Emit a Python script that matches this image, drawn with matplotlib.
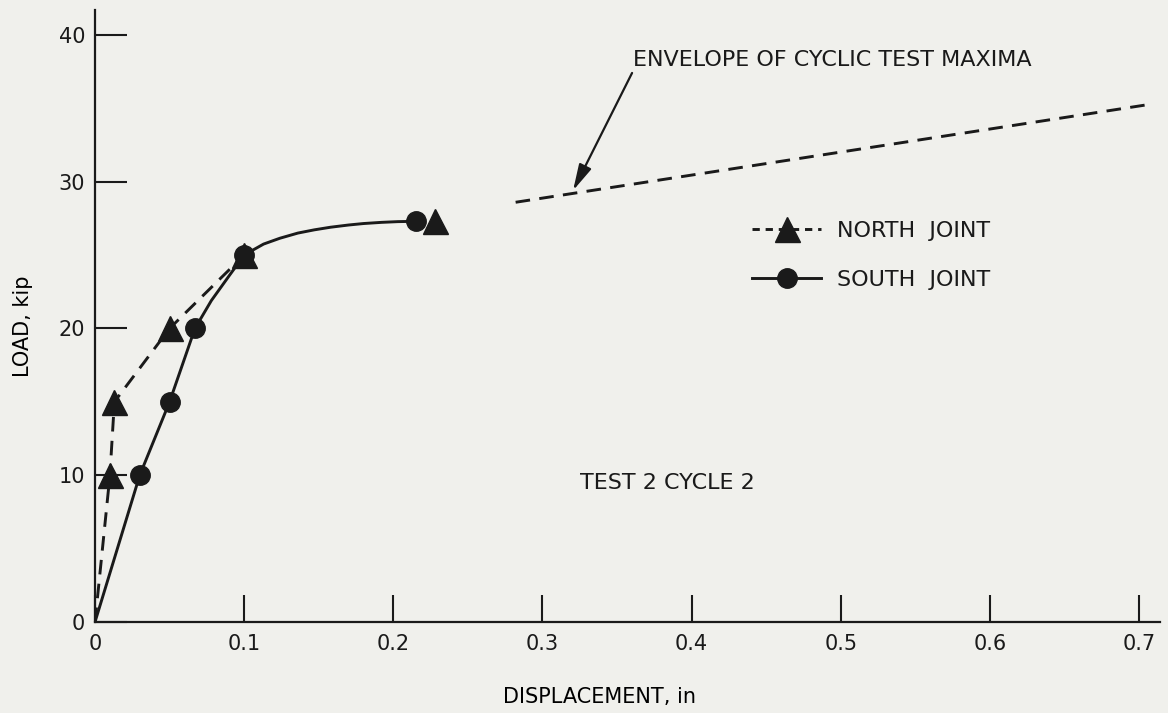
import numpy as np
import matplotlib.pyplot as plt
from matplotlib.lines import Line2D

# plot settings
plt.rcParams.update({
    'font.family': 'DejaVu Sans',
    'font.size': 15,
    'text.color': '#1a1a1a',
    'axes.edgecolor': '#1a1a1a',
    'xtick.color': '#1a1a1a',
    'ytick.color': '#1a1a1a',
})
ink = '#1a1a1a'
paper = '#f0f0ec'

# north joint, measured points (triangles)
north_x = [0.010, 0.013, 0.050, 0.100, 0.228]
north_y = [10, 15, 20, 25, 27.3]
# dashed trace from the origin through the first four points
north_line_x = [0, 0.010, 0.013, 0.050, 0.100]
north_line_y = [0, 10, 15, 20, 25]

# south joint, measured points (circles)
south_x = [0.030, 0.050, 0.067, 0.100, 0.215]
south_y = [10, 15, 20, 25, 27.3]
# solid faired curve
south_line_x = [0, 0.030, 0.050, 0.067, 0.078, 0.090, 0.100, 0.106, 0.113, 0.124, 0.136, 0.147, 0.158, 0.170, 0.180, 0.192, 0.203, 0.215]
south_line_y = [0, 10, 15, 20, 21.9, 23.6, 25, 25.35, 25.75, 26.15, 26.5, 26.72, 26.9, 27.05, 27.15, 27.23, 27.28, 27.3]

# envelope of cyclic test maxima
env_x = [0.282, 0.709]
env_y = [28.6, 35.3]

fig = plt.figure(figsize=(11.68, 7.13), dpi=100, facecolor=paper)
ax = fig.add_axes([95/1168, 91/713, 1065/1168, 612/713], facecolor=paper)

dash = (5, 3.2)
lw = 2.1
ax.plot(north_line_x, north_line_y, color=ink, lw=lw, dashes=dash, zorder=2)
ax.plot(south_line_x, south_line_y, color=ink, lw=lw, zorder=2)
ax.plot(south_x, south_y, 'o', color=ink, ms=14, zorder=3)
ax.plot(north_x, north_y, '^', color=ink, ms=18, zorder=4)
ax.plot(env_x, env_y, color=ink, lw=lw, dashes=dash, zorder=2)

ax.annotate('ENVELOPE OF CYCLIC TEST MAXIMA', xy=(0.3205, 29.4), xytext=(0.361, 37.6),
            ha='left', va='bottom', fontsize=16,
            arrowprops=dict(arrowstyle='-|>,head_length=1.0,head_width=0.25', color=ink,
                            lw=1.6, shrinkA=0, shrinkB=0, relpos=(0, 0)))

ax.text(0.325, 9.5, 'TEST 2 CYCLE 2', ha='left', va='center', fontsize=16)

handles = [
    Line2D([], [], color=ink, lw=lw, dashes=(2.5, 2), marker='^', ms=18),
    Line2D([], [], color=ink, lw=lw, marker='o', ms=14),
]
ax.legend(handles, ['NORTH  JOINT', 'SOUTH  JOINT'], loc='upper left',
          bbox_to_anchor=(0.617, 0.655), frameon=False, fontsize=16,
          numpoints=1, handlelength=3.1, handletextpad=0.7, labelspacing=1.3,
          borderpad=0, borderaxespad=0)

ax.set_xlim(0, 0.714)
ax.set_ylim(0, 41.7)
ax.set_xticks(np.arange(0, 0.71, 0.1))
ax.set_xticklabels(['0', '0.1', '0.2', '0.3', '0.4', '0.5', '0.6', '0.7'])
ax.set_yticks([0, 10, 20, 30, 40])
ax.tick_params(axis='x', direction='in', length=19.5, width=1.5, pad=8.5, labelsize=15)
ax.tick_params(axis='y', direction='in', length=23, width=1.5, pad=7, labelsize=15)

ax.spines['top'].set_visible(False)
ax.spines['right'].set_visible(False)
ax.spines['left'].set_linewidth(1.6)
ax.spines['bottom'].set_linewidth(1.6)

ax.set_xlabel('DISPLACEMENT, in', fontsize=15)
ax.set_ylabel('LOAD, kip', fontsize=15)
ax.xaxis.set_label_coords(0.474, -0.106)
ax.yaxis.set_label_coords(-0.058, 0.484)

fig.savefig('out.png', dpi=100, facecolor=paper)
